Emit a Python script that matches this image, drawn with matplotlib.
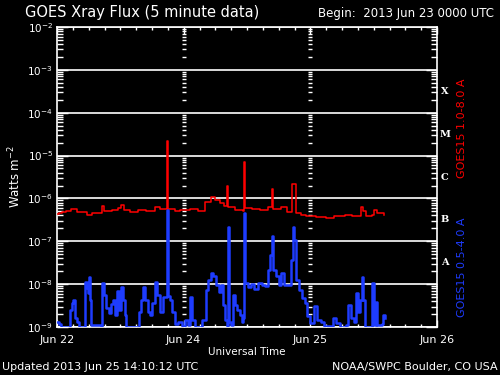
import numpy as np
import matplotlib
matplotlib.use('Agg')
import matplotlib.pyplot as plt
from matplotlib.ticker import FixedLocator, NullFormatter, MultipleLocator

# hours since 2013 Jun 23 00:00 UTC, flux as log10(W m^-2)
long_hours = [0.0, 0.4, 0.9, 1.7, 2.7, 3.8, 5.7, 6.6, 8.3, 8.5, 8.9, 10.4, 11.6, 12.1,
              12.7, 13.8, 15.3, 16.9, 18.6, 19.5, 20.7, 20.8, 21.0, 22.4, 23.3, 25.2,
              26.7, 28.0, 29.2, 29.9, 30.9, 31.6, 32.2, 32.4, 32.6, 33.7, 35.2, 35.4,
              35.6, 37.0, 38.5, 40.0, 40.7, 40.9, 42.4, 43.6, 44.5, 44.9, 45.3, 46.2,
              47.2, 49.1, 51.0, 52.5, 54.6, 55.9, 57.4, 57.6, 58.0, 58.5, 59.7, 60.1,
              60.6, 62.0]
long_log = [-6.36, -6.34, -6.32, -6.29, -6.25, -6.32, -6.38, -6.34, -6.34, -6.18, -6.29,
            -6.27, -6.22, -6.15, -6.27, -6.32, -6.27, -6.29, -6.20, -6.25, -6.25, -4.66,
            -6.25, -6.29, -6.27, -6.25, -6.29, -6.08, -5.97, -6.04, -6.11, -6.18, -5.71,
            -6.20, -6.20, -6.27, -6.29, -5.15, -6.22, -6.25, -6.27, -6.20, -5.78, -6.25,
            -6.20, -6.32, -5.66, -5.66, -6.34, -6.38, -6.41, -6.44, -6.46, -6.41, -6.38,
            -6.41, -6.41, -6.20, -6.29, -6.41, -6.38, -6.27, -6.34, -6.38]

short_hours = [0.0, 0.4, 0.8, 2.1, 2.5, 2.8, 3.0, 3.4, 3.8, 4.2, 5.1, 5.3, 5.7, 5.9,
               6.1, 6.3, 6.4, 8.3, 8.5, 8.9, 9.3, 9.9, 10.2, 10.6, 11.0, 11.4, 11.7,
               12.1, 12.5, 12.9, 13.1, 15.2, 15.5, 15.9, 16.3, 16.7, 17.2, 17.6, 18.0,
               18.6, 18.9, 19.5, 20.1, 20.7, 20.8, 21.0, 21.4, 21.8, 22.4, 22.9, 23.7,
               24.3, 24.8, 25.2, 25.6, 26.1, 26.9, 27.5, 28.2, 28.6, 29.2, 29.6, 30.1,
               30.7, 31.1, 31.5, 31.8, 32.2, 32.4, 32.6, 33.0, 33.3, 33.7, 34.1, 34.7,
               35.1, 35.2, 35.4, 35.6, 36.2, 36.8, 37.3, 38.1, 38.8, 39.4, 40.0, 40.4,
               40.7, 40.9, 41.5, 42.1, 42.4, 43.0, 43.8, 44.3, 44.7, 44.9, 45.3, 45.9,
               46.4, 47.0, 47.4, 47.9, 48.7, 49.3, 50.0, 50.6, 51.9, 52.3, 52.9, 53.6,
               54.8, 55.1, 55.7, 56.3, 56.7, 57.0, 57.4, 57.8, 58.0, 58.4, 59.5, 59.7,
               60.1, 60.4, 60.6, 61.6, 61.8, 62.1]
short_log = [-8.88, -8.93, -9.0, -9.0, -8.60, -8.44, -8.37, -8.79, -8.88, -9.0, -9.0,
             -7.95, -8.09, -8.21, -7.83, -8.37, -8.95, -9.0, -7.97, -8.25, -8.56, -8.67,
             -8.46, -8.37, -8.72, -8.16, -8.60, -8.07, -8.37, -8.72, -9.0, -9.0, -8.65,
             -8.37, -8.07, -8.37, -8.65, -8.72, -8.44, -7.95, -8.25, -8.65, -8.30, -8.30,
             -6.27, -8.28, -8.37, -8.65, -8.93, -8.88, -8.98, -8.84, -8.95, -8.30, -8.84,
             -9.0, -9.0, -8.84, -8.14, -7.90, -7.74, -7.81, -8.02, -8.18, -8.02, -8.49,
             -8.84, -8.98, -6.67, -8.88, -8.95, -8.25, -8.49, -8.60, -8.72, -8.88, -8.79,
             -6.34, -7.97, -8.07, -8.00, -8.11, -7.97, -8.02, -8.04, -7.67, -7.32, -6.88,
             -7.67, -7.81, -8.02, -7.74, -8.02, -8.02, -7.44, -6.67, -6.97, -7.90, -8.14,
             -8.32, -8.44, -8.74, -8.91, -8.51, -8.84, -8.88, -8.98, -9.0, -8.79, -8.91,
             -9.0, -8.95, -8.49, -8.79, -8.88, -8.21, -8.65, -8.37, -7.83, -8.37, -9.0,
             -9.0, -7.97, -8.95, -8.42, -8.95, -8.93, -8.72, -8.79]

decades = [-9, -8, -7, -6, -5, -4, -3, -2]
day_hours = [0, 24, 48, 72]
day_labels = ['Jun 22', 'Jun 24', 'Jun 25', 'Jun 26']
class_names = ['A', 'B', 'C', 'M', 'X']
class_log = [-7.5, -6.5, -5.5, -4.5, -3.5]

plt.rcParams['font.family'] = ['DejaVu Sans']
fig = plt.figure(figsize=(5, 3.75), dpi=100, facecolor='black')
ax = fig.add_axes([57 / 500, 48 / 375, 380 / 500, 300 / 375], facecolor='black')

ax.plot(long_hours, 10.0 ** np.array(long_log), color='#ff0000', lw=1.1,
        drawstyle='steps-post', zorder=3)
ax.plot(short_hours, 10.0 ** np.array(short_log), color='#1e3cff', lw=1.8,
        drawstyle='steps-post', zorder=3)

ax.set_yscale('log')
ax.set_ylim(1e-9, 1e-2)
ax.set_xlim(0, 72)

major_y = [10.0 ** d for d in decades]
minor_y = [m * 10.0 ** d for d in decades[:-1] for m in range(2, 10)]
ax.yaxis.set_major_locator(FixedLocator(major_y))
ax.yaxis.set_minor_locator(FixedLocator(minor_y))
ax.yaxis.set_minor_formatter(NullFormatter())
ax.set_yticklabels(['$10^{%d}$' % d for d in decades])

ax.xaxis.set_major_locator(FixedLocator(day_hours))
ax.xaxis.set_minor_locator(MultipleLocator(3))
ax.set_xticklabels(day_labels)

ax.tick_params(which='both', direction='in', colors='white', top=True, right=True,
               width=1)
ax.tick_params(axis='y', which='major', length=8, pad=3, labelsize=7.5)
ax.tick_params(axis='y', which='minor', length=4.5)
ax.tick_params(axis='x', which='major', length=5, pad=6, labelsize=8)
ax.tick_params(axis='x', which='minor', length=2.5)

ax.grid(True, axis='y', which='major', color='white', lw=1.2, zorder=1)
for s in ax.spines.values():
    s.set_color('white')
    s.set_linewidth(1.2)

# tick columns at interior day boundaries
for d in day_hours[1:-1]:
    ax.plot([d] * len(minor_y), minor_y, ls='none', marker='_', ms=3.5, mew=1,
            color='white', zorder=2)

for name, lv in zip(class_names, class_log):
    ax.text(1.021, 10.0 ** lv, name, transform=ax.get_yaxis_transform(),
            color='white', fontsize=7, fontweight='bold', family='DejaVu Serif',
            ha='center', va='center')

ax.text(1.066, 0.663, 'GOES15 1.0-8.0 A', transform=ax.transAxes, rotation=90,
        color='#ff0000', fontsize=8, ha='center', va='center')
ax.text(1.066, 0.2, 'GOES15 0.5-4.0 A', transform=ax.transAxes, rotation=90,
        color='#1e3cff', fontsize=8, ha='center', va='center')

ax.set_ylabel('Watts m$^{-2}$', color='white', fontsize=8.5, labelpad=3)
ax.set_xlabel('Universal Time', color='white', fontsize=7.5, labelpad=1)

fig.text(25 / 500, 1 - 13 / 375, 'GOES Xray Flux (5 minute data)', color='white',
         fontsize=10.5, ha='left', va='center')
fig.text(318 / 500, 1 - 13 / 375, 'Begin:  2013 Jun 23 0000 UTC', color='white',
         fontsize=8.5, ha='left', va='center')
fig.text(2 / 500, 1 - 367 / 375, 'Updated 2013 Jun 25 14:10:12 UTC', color='white',
         fontsize=8, ha='left', va='center')
fig.text(498 / 500, 1 - 367 / 375, 'NOAA/SWPC Boulder, CO USA', color='white',
         fontsize=8, ha='right', va='center')

fig.savefig('out.png', dpi=100, facecolor='black')
